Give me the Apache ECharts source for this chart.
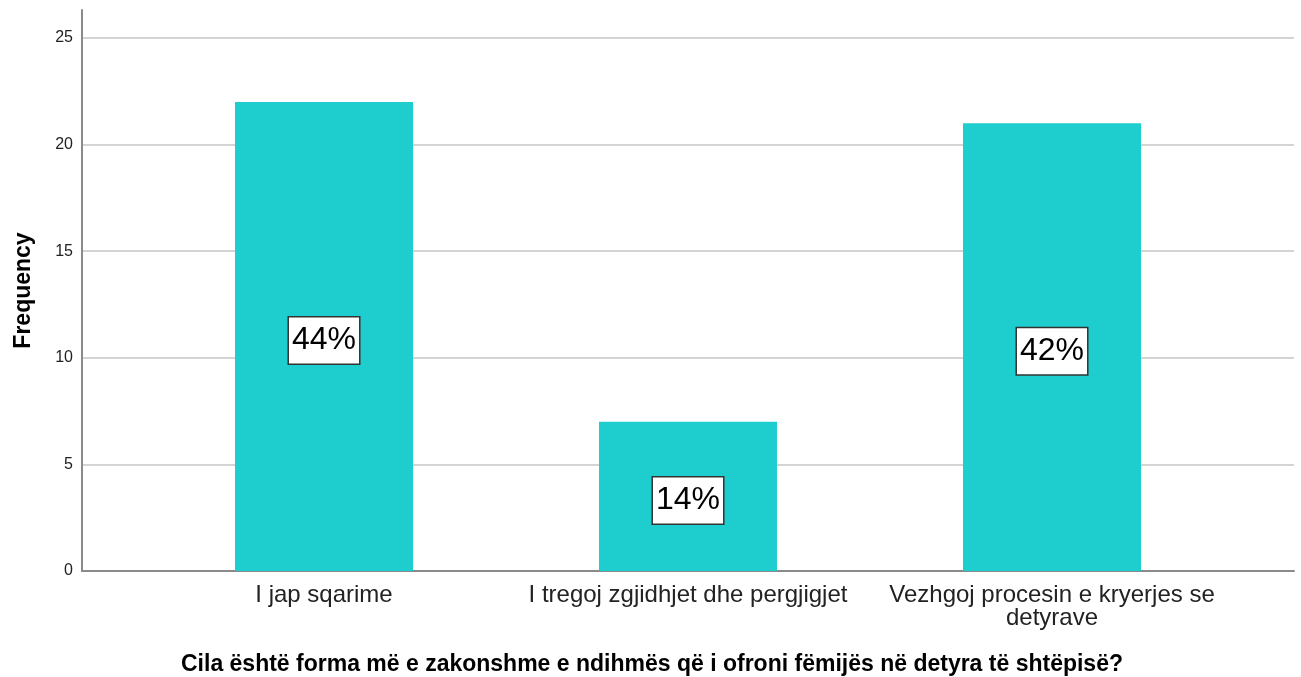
<!DOCTYPE html>
<html>
<head>
<meta charset="utf-8">
<script src="https://cdn.jsdelivr.net/npm/echarts@6/dist/echarts.min.js"></script>
<style>
  html, body { margin: 0; padding: 0; background: #fff; }
  #main { width: 1301px; height: 677px; }
</style>
</head>
<body>
<div id="main"></div>
<script>
var categories = ["I jap sqarime", "I tregoj zgjidhjet dhe pergjigjet", "Vezhgoj procesin e kryerjes se\ndetyrave"];
var frequency = [22, 7, 21];
var yTicks = [0, 5, 10, 15, 20, 25];

var total = frequency.reduce(function (a, b) { return a + b; }, 0);

var chart = echarts.init(document.getElementById("main"));
chart.setOption({
  animation: false,
  textStyle: { fontFamily: "Liberation Sans, Arial, sans-serif" },
  grid: [
    // frame: axis lines, reaches above 25
    { left: 82, right: 7, top: 10, bottom: 106 },
    // gridlines and tick labels
    { left: 82, right: 7, top: 38, bottom: 106 },
    // bars
    { left: 142, right: 67, top: 38, bottom: 106 }
  ],
  xAxis: [
    {
      gridIndex: 0, type: "category", data: [],
      axisLine: { lineStyle: { color: "#8a8a8a", width: 2 } },
      axisTick: { show: false }, axisLabel: { show: false }
    },
    {
      gridIndex: 1, type: "category", data: [], show: false
    },
    {
      gridIndex: 2, type: "category", data: categories,
      axisLine: { show: false }, axisTick: { show: false },
      axisLabel: {
        interval: 0, color: "#222", fontSize: 24, margin: 13, lineHeight: 23
      }
    }
  ],
  yAxis: [
    {
      gridIndex: 0, type: "value", min: 0, max: 1,
      axisLine: { show: true, lineStyle: { color: "#8a8a8a", width: 2 } },
      axisTick: { show: false }, axisLabel: { show: false },
      splitLine: { show: false },
      name: "Frequency", nameLocation: "middle", nameGap: 47, nameRotate: 90,
      nameTextStyle: { fontSize: 23, fontWeight: "bold", color: "#000" }
    },
    {
      gridIndex: 1, type: "value", min: yTicks[0], max: yTicks[yTicks.length - 1], interval: 5,
      axisLine: { show: false }, axisTick: { show: false },
      axisLabel: { color: "#222", fontSize: 16, margin: 9 },
      splitLine: { lineStyle: { color: "#d4d4d4", width: 2 } }
    },
    {
      gridIndex: 2, type: "value", min: yTicks[0], max: yTicks[yTicks.length - 1],
      show: false
    }
  ],
  title: {
    text: "Cila është forma më e zakonshme e ndihmës që i ofroni fëmijës në detyra të shtëpisë?",
    left: 647, textAlign: "center", top: 648,
    textStyle: { fontSize: 23, fontWeight: "bold", color: "#000" }
  },
  series: [
    {
      type: "bar", xAxisIndex: 2, yAxisIndex: 2,
      data: frequency, barWidth: 178,
      itemStyle: { color: "#1ecece" },
      label: {
        show: true, position: "inside", offset: [0, 4],
        formatter: function (p) { return Math.round(p.value / total * 100) + "%"; },
        color: "#000", fontSize: 32, lineHeight: 36,
        backgroundColor: "#fff", borderColor: "#333", borderWidth: 1.5,
        padding: [6, 3, 4, 3]
      }
    }
  ]
});
</script>
</body>
</html>
